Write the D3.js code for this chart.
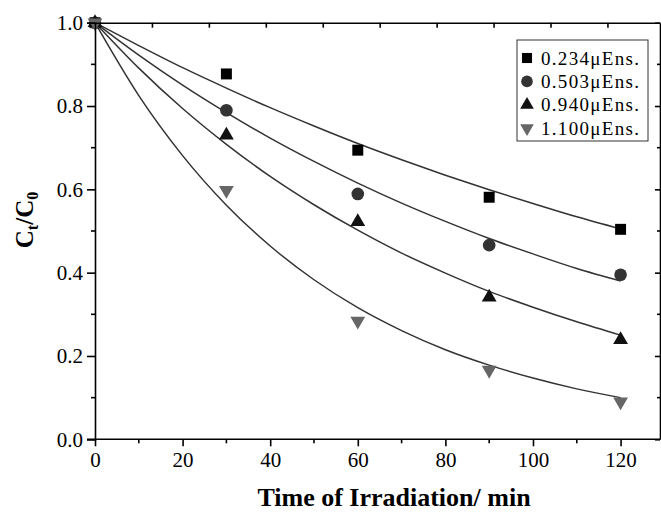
<!DOCTYPE html>
<html>
<head>
<meta charset="utf-8">
<script src="https://cdn.jsdelivr.net/npm/d3@7"></script>
<style>
  body { margin: 0; background: #fff; }
  svg { display: block; }
</style>
</head>
<body>
<svg id="chart" width="661" height="512"></svg>
<script>
const width = 661;
const height = 512;
const svg = d3.select('#chart');
const font = '"Liberation Serif", "Times New Roman", serif';

// ===============================================================
// Data
const times = [0, 30, 60, 90, 120];
const series_labels = ['0.234\u03BCEns.', '0.503\u03BCEns.', '0.940\u03BCEns.', '1.100\u03BCEns.'];
const vals_0234 = [1.0, 0.877, 0.694, 0.581, 0.504];
const vals_0503 = [1.0, 0.790, 0.589, 0.466, 0.395];
const vals_0940 = [1.0, 0.730, 0.522, 0.341, 0.239];
const vals_1100 = [1.0, 0.598, 0.284, 0.166, 0.090];

// fitted curves, sampled every 10 min
const fit_times = [0, 10, 20, 30, 40, 50, 60, 70, 80, 90, 100, 110, 120];
const fit_0234 = [1.0, 0.945, 0.892, 0.843, 0.796, 0.752, 0.710, 0.671, 0.634, 0.599, 0.566, 0.534, 0.505];
const fit_0503 = [1.0, 0.922, 0.850, 0.784, 0.723, 0.667, 0.615, 0.567, 0.523, 0.482, 0.445, 0.410, 0.380];
const fit_0940 = [1.0, 0.891, 0.794, 0.708, 0.631, 0.563, 0.502, 0.447, 0.399, 0.355, 0.317, 0.282, 0.250];
const fit_1100 = [1.0, 0.825, 0.681, 0.562, 0.464, 0.383, 0.316, 0.261, 0.215, 0.178, 0.147, 0.121, 0.100];

const x_major = [0, 20, 40, 60, 80, 100, 120];
const x_minor = [10, 30, 50, 70, 90, 110];
const x_top = [13, 26, 39, 52, 65, 78, 91, 104, 117];
const y_major = [0, 0.2, 0.4, 0.6, 0.8, 1.0];
const y_minor = [0.1, 0.3, 0.5, 0.7, 0.9];

const groups = [
  {label: series_labels[0], vals: vals_0234, fit: fit_0234, shape: d3.symbolSquare, size: 120, color: '#000000', rot: 0},
  {label: series_labels[1], vals: vals_0503, fit: fit_0503, shape: d3.symbolCircle, size: 125, color: '#333333', rot: 0},
  {label: series_labels[2], vals: vals_0940, fit: fit_0940, shape: d3.symbolTriangle, size: 95, color: '#111111', rot: 0},
  {label: series_labels[3], vals: vals_1100, fit: fit_1100, shape: d3.symbolTriangle, size: 95, color: '#666666', rot: 180},
];

// ===============================================================
// Scales
const margin = {left: 95, right: 1, top: 22.7, bottom: 72.7};
const x = d3.scaleLinear().domain([0, 129]).range([margin.left, width - margin.right]);
const y = d3.scaleLinear().domain([0, 1]).range([height - margin.bottom, margin.top]);

const axis_w = 1.6;

// ===============================================================
// Fitted curves
const line = d3.line()
  .curve(d3.curveMonotoneX)
  .x((d, i) => x(fit_times[i]))
  .y(d => y(d));

svg.append('g')
  .selectAll('path')
  .data(groups)
  .enter().append('path')
  .attr('d', d => line(d.fit))
  .attr('fill', 'none')
  .attr('stroke', '#333')
  .attr('stroke-width', 1.5);

// ===============================================================
// Markers
groups.forEach(gr => {
  svg.append('g')
    .selectAll('path')
    .data(gr.vals)
    .enter().append('path')
    .attr('d', d3.symbol().type(gr.shape).size(gr.size))
    .attr('transform', (d, i) => `translate(${x(times[i])},${y(d)}) rotate(${gr.rot})`)
    .attr('fill', gr.color);
});

// ===============================================================
// Axes
const axis_bottom = svg.append('g')
  .attr('transform', `translate(0,${y(0)})`)
  .call(d3.axisBottom(x).tickValues(x_major).tickSize(7).tickPadding(6).tickFormat(d3.format('d')));
axis_bottom.append('g').selectAll('line').data(x_minor).enter().append('line')
  .attr('x1', d => x(d)).attr('x2', d => x(d)).attr('y1', 0).attr('y2', 4);

const axis_left = svg.append('g')
  .attr('transform', `translate(${x(0)},0)`)
  .call(d3.axisLeft(y).tickValues(y_major).tickSize(8).tickPadding(4).tickFormat(d3.format('.1f')));
axis_left.append('g').selectAll('line').data(y_minor).enter().append('line')
  .attr('y1', d => y(d)).attr('y2', d => y(d)).attr('x1', 0).attr('x2', -4);

const axis_top = svg.append('g')
  .attr('transform', `translate(0,${y(1)})`)
  .call(d3.axisTop(x).tickValues(x_top).tickSizeInner(-5).tickSizeOuter(0).tickFormat(''));

const axis_right = svg.append('g')
  .attr('transform', `translate(${x(129)},0)`)
  .call(d3.axisRight(y).tickValues(y_major).tickSizeInner(-5).tickSizeOuter(0).tickFormat(''));
axis_right.append('g').selectAll('line').data(y_minor).enter().append('line')
  .attr('y1', d => y(d)).attr('y2', d => y(d)).attr('x1', 0).attr('x2', -3);

[axis_bottom, axis_left, axis_top, axis_right].forEach(a => {
  a.selectAll('.domain').attr('stroke', '#000').attr('stroke-width', axis_w);
  a.selectAll('line').attr('stroke', '#000').attr('stroke-width', axis_w);
  a.selectAll('text')
    .attr('fill', '#000')
    .style('font-family', font)
    .style('font-size', '21px');
});
axis_bottom.selectAll('.domain').attr('d', `M${x(0) - 8},0H${x(129)}`);

// ===============================================================
// Axis titles
svg.append('text')
  .attr('x', 394)
  .attr('y', 506)
  .attr('text-anchor', 'middle')
  .style('font-family', font)
  .style('font-size', '26px')
  .style('font-weight', 'bold')
  .text('Time of Irradiation/ min');

const ylab = svg.append('text')
  .attr('transform', 'translate(33,220) rotate(-90)')
  .attr('text-anchor', 'middle')
  .style('font-family', font)
  .style('font-size', '25px')
  .style('font-weight', 'bold');
ylab.append('tspan').text('C');
ylab.append('tspan').attr('dy', 5).style('font-size', '16px').text('t');
ylab.append('tspan').attr('dy', -5).text('/C');
ylab.append('tspan').attr('dy', 5).style('font-size', '16px').text('0');

// ===============================================================
// Legend
const legend = svg.append('g').attr('transform', 'translate(517,40)');
legend.append('rect')
  .attr('width', 131)
  .attr('height', 101)
  .attr('fill', '#fff')
  .attr('stroke', '#333')
  .attr('stroke-width', 1);

const rows = legend.selectAll('g.row')
  .data(groups)
  .enter().append('g')
  .attr('class', 'row')
  .attr('transform', (d, i) => `translate(0,${18 + i * 23.4})`);

rows.append('path')
  .attr('d', d => d3.symbol().type(d.shape).size(d.size * 0.85)())
  .attr('transform', d => `translate(10,0) rotate(${d.rot})`)
  .attr('fill', d => d.color);

rows.append('text')
  .attr('x', 24)
  .attr('dy', '0.35em')
  .style('font-family', font)
  .style('font-size', '19px')
  .style('letter-spacing', '1.3px')
  .text(d => d.label);
</script>
</body>
</html>
